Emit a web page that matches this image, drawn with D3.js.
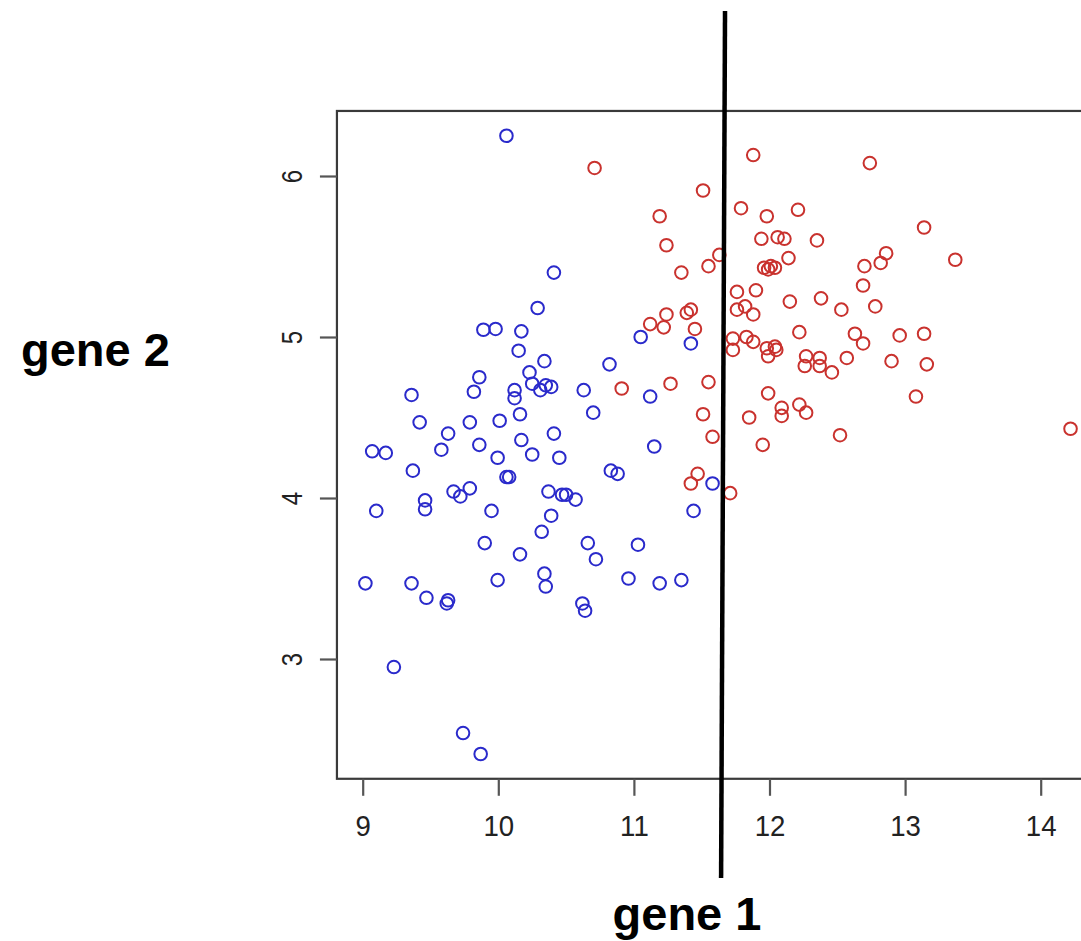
<!DOCTYPE html>
<html>
<head>
<meta charset="utf-8">
<script src="https://cdn.jsdelivr.net/npm/d3@7"></script>
<style>
  html, body { margin: 0; padding: 0; background: #fff; }
  svg { display: block; }
</style>
</head>
<body>
<svg id="chart" width="1081" height="941"></svg>
<script>
// ---- data ----
const blueGene1 = [10.06,10.41,10.29,9.89,9.98,10.17,11.05,11.42,10.15,10.34,10.23,10.82,9.86,9.82,10.12,10.12,10.25,10.31,10.35,10.39,10.63,11.12,9.36,10.70,9.42,9.79,10.01,10.16,9.63,10.41,9.86,10.17,11.15,9.07,9.17,9.58,9.995,10.25,10.45,9.37,10.06,10.08,10.83,10.88,11.58,9.67,9.72,9.79,9.46,9.46,9.10,10.37,10.47,10.50,10.57,9.95,10.39,11.44,10.32,9.90,10.16,10.66,10.72,11.03,9.02,9.36,9.47,9.63,9.62,9.995,10.34,10.35,10.62,10.64,10.96,11.19,11.35,9.23,9.74,9.87];
const blueGene2 = [6.25,5.40,5.18,5.045,5.05,5.035,5.00,4.96,4.915,4.85,4.78,4.83,4.75,4.66,4.67,4.62,4.71,4.67,4.70,4.69,4.67,4.63,4.64,4.53,4.47,4.47,4.48,4.52,4.40,4.40,4.33,4.36,4.32,4.29,4.28,4.30,4.25,4.27,4.25,4.17,4.13,4.13,4.17,4.15,4.09,4.04,4.01,4.06,3.985,3.93,3.92,4.04,4.02,4.02,3.99,3.92,3.89,3.92,3.79,3.72,3.65,3.72,3.62,3.71,3.47,3.47,3.38,3.365,3.345,3.49,3.53,3.45,3.345,3.30,3.50,3.47,3.49,2.95,2.54,2.41];

const redGene1 = [10.71,11.51,11.19,11.24,11.63,11.55,11.35,11.88,12.74,11.79,11.98,12.21,13.14,11.94,12.06,12.11,12.35,12.86,12.82,13.37,12.14,12.70,11.96,12.01,12.04,11.99,11.76,11.90,12.69,12.15,12.38,12.78,12.53,11.76,11.82,11.88,11.24,11.12,11.22,11.39,11.42,11.45,12.22,12.63,12.69,12.96,13.14,11.73,11.73,11.83,11.88,11.98,12.04,12.05,11.99,12.57,12.27,12.37,12.26,12.37,12.46,12.90,13.16,11.99,13.08,11.85,12.09,12.09,12.22,12.27,12.52,11.95,14.22,10.91,11.27,11.55,11.51,11.58,11.47,11.42,11.71];
const redGene2 = [6.05,5.91,5.75,5.57,5.51,5.44,5.40,6.13,6.08,5.80,5.75,5.79,5.68,5.61,5.62,5.61,5.60,5.52,5.46,5.48,5.49,5.44,5.43,5.44,5.43,5.42,5.28,5.29,5.32,5.22,5.24,5.19,5.17,5.17,5.19,5.14,5.14,5.08,5.06,5.15,5.17,5.05,5.03,5.02,4.96,5.01,5.02,4.99,4.92,5.00,4.97,4.93,4.94,4.92,4.88,4.87,4.88,4.87,4.82,4.82,4.78,4.85,4.83,4.65,4.63,4.50,4.56,4.51,4.58,4.53,4.39,4.33,4.43,4.68,4.71,4.72,4.52,4.38,4.15,4.09,4.03];

const xTicks = [9, 10, 11, 12, 13, 14];
const yTicks = [3, 4, 5, 6];
const xLabel = "gene 1";
const yLabel = "gene 2";
const xDomainBox = [8.81, 14.43];   // plot box (R's 4% padding)
const yDomainBox = [2.256, 6.404];
const splitLine = { x: [11.672, 11.643], y: [7.025, 1.64] }; // separating line (top, bottom)

// ---- scales ----
const x = d3.scaleLinear().domain([9, 14]).range([362.7, 1040.7]);
const y = d3.scaleLinear().domain([3, 6]).range([659, 176]);

const svg = d3.select("#chart");

// plot box
svg.append("rect")
  .attr("x", x(xDomainBox[0])).attr("y", y(yDomainBox[1]))
  .attr("width", x(xDomainBox[1]) - x(xDomainBox[0]))
  .attr("height", y(yDomainBox[0]) - y(yDomainBox[1]))
  .attr("fill", "none").attr("stroke", "#3a3a3a").attr("stroke-width", 2.2);

// axes
const xAxis = svg.append("g")
  .attr("transform", `translate(0,${y(yDomainBox[0])})`)
  .call(d3.axisBottom(x).tickValues(xTicks).tickSize(17).tickPadding(19).tickFormat(d3.format("d")));
xAxis.select(".domain").remove();
xAxis.selectAll(".tick line").attr("stroke", "#555").attr("stroke-width", 2.2);
xAxis.selectAll(".tick text")
  .attr("font-family", "Liberation Sans, Arial, sans-serif")
  .attr("font-size", 30).attr("fill", "#222")
  .attr("transform", "scale(0.92,1)");

const yAxis = svg.append("g")
  .attr("transform", `translate(${x(xDomainBox[0])},0)`)
  .call(d3.axisLeft(y).tickValues(yTicks).tickSize(17).tickPadding(0).tickFormat(d3.format("d")));
yAxis.select(".domain").remove();
yAxis.selectAll(".tick line").attr("stroke", "#555").attr("stroke-width", 2.2);
yAxis.selectAll(".tick text")
  .attr("x", null).attr("dy", null)
  .attr("text-anchor", "middle")
  .attr("font-family", "Liberation Sans, Arial, sans-serif")
  .attr("font-size", 30).attr("fill", "#222")
  .attr("transform", "translate(-35,0) rotate(-90) scale(0.8,1)");

// points
const pts = svg.append("g");
pts.selectAll("circle.blue")
  .data(blueGene1.map((v, i) => [v, blueGene2[i]]))
  .join("circle").attr("class", "blue")
  .attr("cx", d => x(d[0])).attr("cy", d => y(d[1])).attr("r", 6.3)
  .attr("fill", "none").attr("stroke", "#2a2acb").attr("stroke-width", 2);
pts.selectAll("circle.red")
  .data(redGene1.map((v, i) => [v, redGene2[i]]))
  .join("circle").attr("class", "red")
  .attr("cx", d => x(d[0])).attr("cy", d => y(d[1])).attr("r", 6.3)
  .attr("fill", "none").attr("stroke", "#c9322e").attr("stroke-width", 2);

// separating line
svg.append("line")
  .attr("x1", x(splitLine.x[0])).attr("y1", y(splitLine.y[0]))
  .attr("x2", x(splitLine.x[1])).attr("y2", y(splitLine.y[1]))
  .attr("stroke", "#000").attr("stroke-width", 4.5);

// axis titles
svg.append("text")
  .attr("x", 687).attr("y", 930).attr("text-anchor", "middle")
  .attr("font-family", "Liberation Sans, Arial, sans-serif")
  .attr("font-weight", "bold").attr("font-size", 47).attr("fill", "#000")
  .text(xLabel);
svg.append("text")
  .attr("x", 21).attr("y", 366).attr("text-anchor", "start")
  .attr("font-family", "Liberation Sans, Arial, sans-serif")
  .attr("font-weight", "bold").attr("font-size", 47).attr("fill", "#000")
  .text(yLabel);
</script>
</body>
</html>
